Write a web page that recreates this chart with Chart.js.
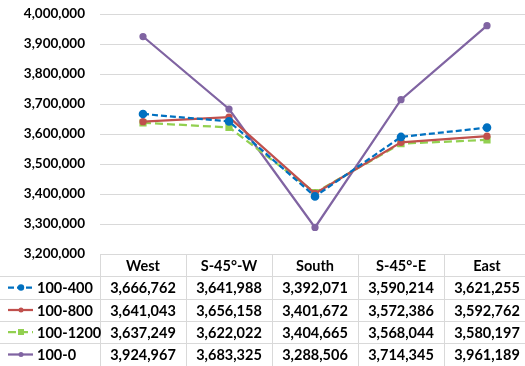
<!DOCTYPE html>
<html>
<head>
<meta charset="utf-8">
<script src="https://cdn.jsdelivr.net/npm/chart.js@4/dist/chart.umd.min.js"></script>
<style>
  html, body { margin: 0; padding: 0; background: #fff; overflow: hidden; }
  #wrap { width: 530px; height: 366px; }
</style>
</head>
<body>
<div id="wrap"><canvas id="orient-line" width="530" height="366"></canvas></div>
<script>
// directions along the x axis
var directions = ["West", "S-45°-W", "South", "S-45°-E", "East"];

// one series per spacing case
var seriesNames = ["100-400", "100-800", "100-1200", "100-0"];
var s100_400  = [3666762, 3641988, 3392071, 3590214, 3621255];
var s100_800  = [3641043, 3656158, 3401672, 3572386, 3592762];
var s100_1200 = [3637249, 3622022, 3404665, 3568044, 3580197];
var s100_0    = [3924967, 3683325, 3288506, 3714345, 3961189];

var yMin = 3200000, yMax = 4000000, yStep = 100000;

var FONT = "Lato, 'Open Sans', sans-serif";
var GRID = "#d9d9d9";
var fmt = function(v) { return v.toLocaleString("en-US"); };

// data table under the plot (legend keys + values)
var tablePlugin = {
  id: "dataTable",
  afterDraw: function(chart) {
    var ctx = chart.ctx;
    var area = chart.chartArea;
    var x = chart.scales.x;
    var top = Math.round(area.bottom);
    var rows = [276, 299, 321, 343, 366];
    var colW = x.getPixelForValue(1) - x.getPixelForValue(0);

    ctx.save();
    ctx.strokeStyle = GRID;
    ctx.lineWidth = 1;
    ctx.beginPath();
    ctx.moveTo(area.left, top + 0.5); ctx.lineTo(area.right, top + 0.5);
    for (var r = 0; r < rows.length - 1; r++) {
      ctx.moveTo(0, rows[r] + 0.5); ctx.lineTo(area.right, rows[r] + 0.5);
    }
    ctx.moveTo(area.left + 0.5, top); ctx.lineTo(area.left + 0.5, 366);
    for (var c = 1; c < directions.length; c++) {
      var cx = Math.round(area.left + c * colW) + 0.5;
      ctx.moveTo(cx, top); ctx.lineTo(cx, 366);
    }
    ctx.stroke();

    ctx.fillStyle = "#000";
    ctx.font = "bold 14.5px " + FONT;
    ctx.textAlign = "center";
    ctx.textBaseline = "middle";
    directions.forEach(function(d, i) {
      ctx.fillText(d, x.getPixelForValue(i), (top + rows[0]) / 2 + 1);
    });

    chart.data.datasets.forEach(function(ds, k) {
      var y0 = rows[k], y1 = rows[k + 1];
      var cy = (y0 + y1) / 2 + 1;
      ds.data.forEach(function(v, i) {
        ctx.fillText(fmt(v), x.getPixelForValue(i), cy);
      });

      // legend key
      ctx.save();
      ctx.strokeStyle = ds.borderColor;
      ctx.lineWidth = ds.borderWidth;
      ctx.setLineDash(ds.borderDash || []);
      ctx.beginPath();
      ctx.moveTo(8, cy - 1); ctx.lineTo(33, cy - 1);
      ctx.stroke();
      ctx.setLineDash([]);
      ctx.fillStyle = ds.pointBackgroundColor;
      if (ds.pointStyle === "rect") {
        ctx.fillRect(21 - 3, cy - 4, 6, 6);
      } else {
        ctx.beginPath();
        ctx.arc(21, cy - 1, ds.pointRadius, 0, Math.PI * 2);
        ctx.fill();
      }
      ctx.restore();

      ctx.textAlign = "left";
      ctx.fillText(seriesNames[k], 37, cy);
      ctx.textAlign = "center";
    });
    ctx.restore();
  }
};

function series(label, data, color, dash, style, radius) {
  return {
    label: label,
    data: data,
    borderColor: color,
    backgroundColor: color,
    pointBackgroundColor: color,
    pointBorderColor: color,
    borderWidth: 2.25,
    borderDash: dash,
    pointStyle: style,
    pointRadius: radius,
    pointHoverRadius: radius,
    tension: 0
  };
}

new Chart(document.getElementById("orient-line"), {
  type: "line",
  data: {
    labels: directions,
    datasets: [
      series(seriesNames[0], s100_400, "#0070c0", [6, 3], "circle", 3.2),
      series(seriesNames[1], s100_800, "#c0504d", [], "circle", 2.5),
      series(seriesNames[2], s100_1200, "#92d050", [8, 4], "rect", 3.5),
      series(seriesNames[3], s100_0, "#8064a2", [], "circle", 2.5)
    ]
  },
  options: {
    responsive: false,
    animation: false,
    layout: { autoPadding: false, padding: { top: 14, bottom: 112, left: 0, right: 0 } },
    plugins: {
      legend: { display: false },
      tooltip: { enabled: false }
    },
    scales: {
      x: {
        display: false,
        offset: true
      },
      y: {
        min: yMin,
        max: yMax,
        afterFit: function(scale) { scale.width = 100; },
        border: { display: false },
        // invisible tick marks keep the labels 15px off the plot
        grid: { color: GRID, drawTicks: true, tickLength: 15, tickColor: "rgba(0,0,0,0)", lineWidth: 1 },
        ticks: {
          stepSize: yStep,
          padding: 0,
          color: "#000",
          font: { family: FONT, size: 13.5, weight: "bold" },
          callback: function(v) { return fmt(v); }
        }
      }
    }
  },
  plugins: [tablePlugin]
});
</script>
</body>
</html>
